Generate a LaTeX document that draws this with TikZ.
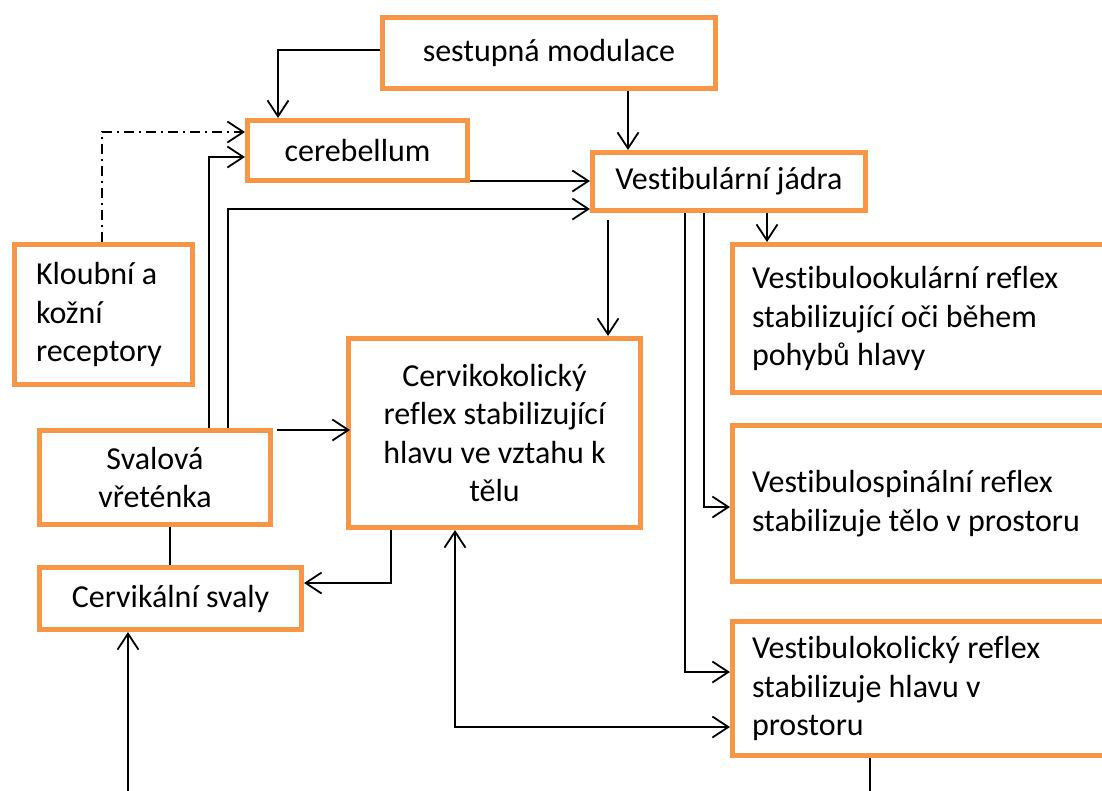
\documentclass[tikz,border=0pt]{standalone}
\usepackage{fontspec}
\setmainfont{Carlito}[Ligatures=NoCommon]
\usetikzlibrary{arrows.meta}
\definecolor{boxorange}{HTML}{F79646}
\begin{document}
\begin{tikzpicture}[x=1pt,y=-1pt,
  box/.style={draw=boxorange, line width=5pt, fill=white, inner sep=0pt,
    font=\fontsize{32}{38.5}\selectfont},
  conn/.style={line width=1.8pt},
  arr/.style={conn, -{Straight Barb[length=16pt,width=21pt,line width=1.8pt]}},
  darr/.style={conn, {Straight Barb[length=16pt,width=21pt,line width=1.8pt]}-{Straight Barb[length=16pt,width=21pt,line width=1.8pt]}},
  dashdot/.style={conn, dash pattern=on 10pt off 5pt on 2pt off 5pt}]
\useasboundingbox (0,0) rectangle (1102,790);
\clip (0,0) rectangle (1102,790);
\fill[white] (0,0) rectangle (1102,790);

% boxes
\node[box, minimum width=333pt, minimum height=71pt] (ses) at (549,53) {sestupná modulace};
\node[box, minimum width=220pt, minimum height=60pt] (cer) at (357.5,150.5) {cerebellum};
\node[box, minimum width=273pt, minimum height=58pt] (vj) at (729,181.5) {Vestibulární jádra};
\node[box, align=flush left, text width=135pt, minimum width=178pt, minimum height=140pt] (klo) at (103.5,314.5) {Kloubní a\\kožní\\receptory};
\node[box, align=flush left, text width=346pt, minimum width=385pt, minimum height=148pt] (vok) at (925,318.5) {Vestibulookulární reflex\\stabilizující oči během\\pohybů hlavy};
\node[box, align=center, minimum width=292pt, minimum height=189pt] (cck) at (494.5,433) {Cervikokolický\\reflex stabilizující\\hlavu ve vztahu k\\tělu};
\node[box, align=center, minimum width=231pt, minimum height=94pt] (sv) at (155,477.5) {Svalová\\vřeténka};
\node[box, minimum width=262pt, minimum height=62pt] (cs) at (170.5,598.5) {Cervikální svaly};
\node[box, align=flush left, text width=346pt, minimum width=385pt, minimum height=156pt] (vsp) at (925,503.5) {Vestibulospinální reflex\\stabilizuje tělo v prostoru};
\node[box, align=flush left, text width=346pt, minimum width=385pt, minimum height=134pt] (vko) at (925,688.5) {Vestibulokolický reflex\\stabilizuje hlavu v\\prostoru};

\coordinate (b1) at (128,795);
\coordinate (b2) at (870,795);

% connectors
\draw[arr] ([yshift=3pt]ses.west) -| ([xshift=33pt]cer.north west);
\draw[arr] ([xshift=248pt]ses.south west) -- ([xshift=38pt]vj.north west);
\draw[dashdot, -{Straight Barb[length=16pt,width=21pt,line width=1.8pt]}] ([xshift=90pt]klo.north west) |- ([yshift=18.5pt]cer.west);
\draw[arr] ([xshift=172pt]sv.north west) |- ([yshift=-6.5pt]cer.west);
\draw[arr] ([xshift=191pt]sv.north west) |- ([yshift=-27.5pt]vj.west);
\draw[arr] ([yshift=-30.5pt]cer.east) -- ([yshift=-30.5pt]cer.east -| vj.west);
\draw[arr, shorten <=7pt] ([xshift=18pt]vj.south west) -- ([xshift=18pt]vj.south west |- cck.north);
\draw[arr] ([xshift=95pt]vj.south west) |- ([yshift=16.5pt]vko.west);
\draw[arr] ([xshift=114pt]vj.south west) |- ([yshift=-3.5pt]vsp.west);
\draw[arr] ([xshift=177pt]vj.south west) -- ([xshift=177pt]vj.south west |- vok.north);
\draw[arr] ([xshift=4pt,yshift=-2pt]sv.north east) -- ([xshift=4pt,yshift=-2pt]sv.north east -| cck.west);
\draw[conn] ([xshift=133pt]sv.south west) -- ([xshift=133pt]sv.south west |- cs.north);
\draw[arr] ([xshift=45pt]cck.south west) |- ([yshift=15.5pt]cs.east);
\draw[darr] ([xshift=109pt]cck.south west) |- ([yshift=-38.5pt]vko.west);
\draw[arr] (b1) -- (b1 |- cs.south);
\draw[conn] (b2 |- vko.south) -- (b2);
\end{tikzpicture}
\end{document}
